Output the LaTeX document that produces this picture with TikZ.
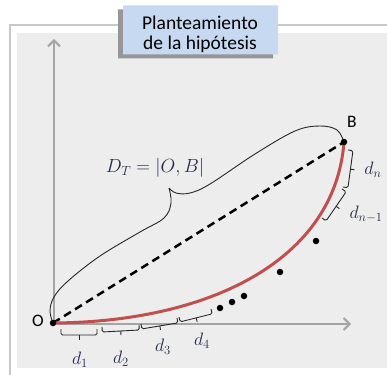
\RequirePackage{fix-cm}
\documentclass[tikz,border=0pt]{standalone}
\usepackage{fontspec}
\setmainfont{Carlito}
\usetikzlibrary{arrows.meta,calc,shapes.misc,shadows}
\definecolor{panel}{RGB}{237,237,237}
\definecolor{framegray}{RGB}{200,200,200}
\definecolor{axisgray}{RGB}{165,165,165}
\definecolor{titleblue}{RGB}{198,217,241}
\definecolor{shadowgray}{RGB}{150,150,150}
\definecolor{curvered}{RGB}{192,80,77}
\definecolor{mathblue}{RGB}{35,45,75}
\tikzset{
  axisline/.style={draw=axisgray, line width=2pt, -{Straight Barb[length=6pt,width=12pt,line width=2pt]}},
  bracestyle/.style={draw=black!85, line width=0.9pt, rounded corners=1.5pt},
  bigbrace/.style={draw=black!85, line width=0.9pt},
  ptdot/.style={circle, fill=black, inner sep=0pt, minimum size=6.5pt},
  mlabel/.style={text=mathblue, font=\fontsize{18}{21}\selectfont, inner sep=0pt},
  plabel/.style={font=\fontsize{17.5}{20}\selectfont, inner sep=0pt},
  dashline/.style={draw=black, line width=2.5pt, dash pattern=on 8pt off 5pt},
  redcurve/.style={draw=curvered, line width=3pt},
  titlebox/.style={chamfered rectangle, chamfered rectangle corners={north west, north east},
    chamfered rectangle xsep=7pt, fill=titleblue, minimum width=155pt, minimum height=49pt,
    inner sep=0pt, general shadow={fill=shadowgray, shadow xshift=-5pt, shadow yshift=-4pt}},
}
\newcommand\sqbrace[4]{%
  \coordinate (#4m) at ($(#1)!0.5!(#2)$);
  \coordinate (#4a) at ($(#4m)!#3!-90:(#2)$);
  \draw[bracestyle] (#1) -- ($(#1)!#3!-90:(#2)$) -- ($(#2)!#3!90:(#1)$) -- (#2);
  \draw[bracestyle] (#4a) -- ($(#4m)!1.8!(#4a)$);
}
\begin{document}
\begin{tikzpicture}[x=1pt,y=-1pt]
\useasboundingbox (0,0) rectangle (387,374);
\clip (0,0) rectangle (387,374);
\fill[white] (0,0) rectangle (387,374);
\draw[framegray, line width=1.5pt] (10,400) -- (10,25) -- (400,25);
\fill[panel] (17,33) rectangle (400,368);

% points
\coordinate (O) at (53,323);
\coordinate (B) at (344,142);
\coordinate (ytop) at (54,39);
\coordinate (xend) at (351,324);
\coordinate (orig) at (54,324);

% axes
\draw[axisline] (orig) -- (ytop);
\draw[axisline] (orig) -- (xend);

% big brace
\draw[bigbrace] plot[smooth, tension=0.6] coordinates {(53,323) (50,311) (54,297) (68,281) (100,256) (140,232) (164,218) (171,203) (169,188)};
\draw[bigbrace] plot[smooth, tension=0.6] coordinates {(169,188) (176,193) (190,193) (210,184) (255,154) (295,131) (320,126) (337,130) (344,142)};

% dashed chord and red curve
\draw[dashline] (O) -- (B);
\draw[redcurve] (O) .. controls (210,322) and (335,260) .. (B);

% dots
\node[ptdot] (Od) at (O) {};
\node[ptdot] (Bd) at (B) {};
\node[ptdot] (p1) at (220,308) {};
\node[ptdot] (p2) at (232,302) {};
\node[ptdot] (p3) at (244,296) {};
\node[ptdot] (p4) at (280,272) {};
\node[ptdot] (p5) at (316,241) {};

% small braces
\coordinate (a1) at (61,329);  \coordinate (b1) at (97,329);
\coordinate (a2) at (102,327); \coordinate (b2) at (139,325);
\coordinate (a3) at (141,324); \coordinate (b3) at (177,318);
\coordinate (a4) at (179,317); \coordinate (b4) at (211,309);
\coordinate (an) at (343,187); \coordinate (bn) at (348,150);
\coordinate (am) at (322,218); \coordinate (bm) at (342,189);
\sqbrace{a1}{b1}{6pt}{br1}
\sqbrace{a2}{b2}{5pt}{br2}
\sqbrace{a3}{b3}{5pt}{br3}
\sqbrace{a4}{b4}{5pt}{br4}
\sqbrace{an}{bn}{5pt}{brn}
\sqbrace{am}{bm}{5pt}{brm}

% labels
\node[plabel] (Olab) at (38,321) {O};
\node[plabel] (Blab) at (352,122) {B};
\node[mlabel, font=\fontsize{19}{22}\selectfont] (DT) at (155,168) {$D_T=|O,B|$};
\node[mlabel] (d1) at (80,360) {$d_1$};
\node[mlabel] (d2) at (121,359) {$d_2$};
\node[mlabel] (d3) at (163,347) {$d_3$};
\node[mlabel] (d4) at (202,341) {$d_4$};
\node[mlabel] (dn) at (373,170) {$d_n$};
\node[mlabel] (dm) at (366,214) {$d_{n-1}$};

% title
\node[titlebox] (title) at (200.5,30) {};
\node[font=\fontsize{19.5}{20}\selectfont, align=center, inner sep=0pt] (titletext) at (200,34) {Planteamiento\\de la hipótesis};
\end{tikzpicture}
\end{document}
